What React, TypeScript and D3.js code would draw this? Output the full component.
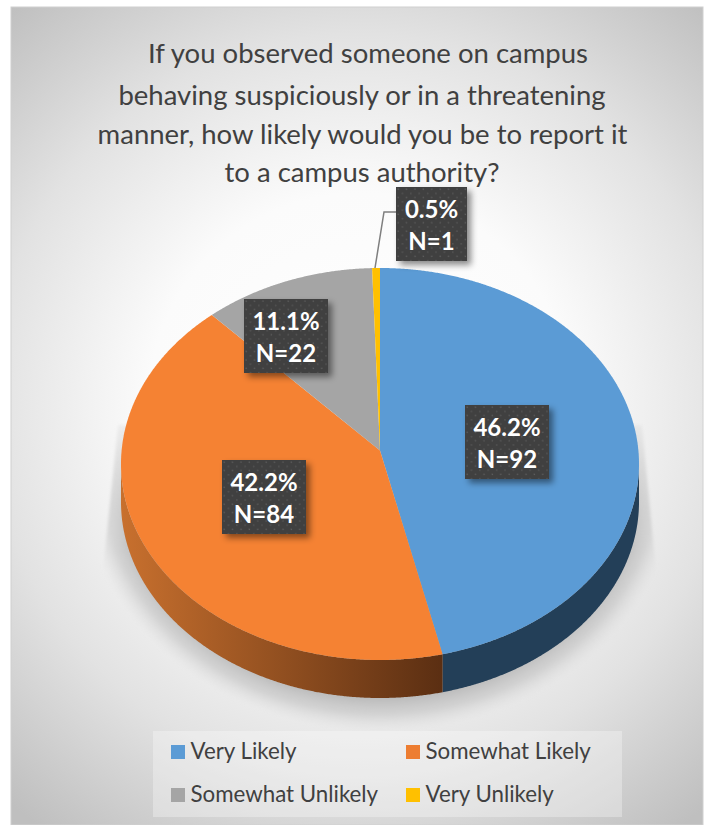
import React from 'react';
import * as d3 from 'd3';

const categories = ['Very Likely', 'Somewhat Likely', 'Somewhat Unlikely', 'Very Unlikely'];
const counts = [92, 84, 22, 1];
const percentLabels = ['46.2%', '42.2%', '11.1%', '0.5%'];
const countLabels = ['N=92', 'N=84', 'N=22', 'N=1'];
const colors = ['#5b9bd5', '#f58233', '#a5a5a5', '#ffc000'];
const titleLines = [
  'If you observed someone on campus',
  'behaving suspiciously or in a threatening',
  'manner, how likely would you be to report it',
  'to a campus authority?',
];

const width = 710;
const height = 825;
const cx = 380;
const cy = 464;
const rx = 259;
const ry = 196;
const depth = 38;
const apexY = -13.5; // the tilt moves the tip of the slices above the middle of the ellipse
const tilt = -0.03;
const font = 'Lato, sans-serif';

// top left corner of each data label box
const labelBoxes = [
  { x: 465, y: 405 },
  { x: 222, y: 460 },
  { x: 244, y: 299 },
  { x: 396, y: 187 },
];
const titleX = [368, 362, 362.5, 362];
const titleY = [63, 105, 144, 182];
const sideFills = ['#233f58', 'url(#orangeSide)', '#5e5e5e', '#8a6c00'];

const pie = d3.pie<number>().sort(null);
const slices = pie(counts);

// point of the rim for a pie angle, with a little perspective
const rim = (a: number): [number, number] => {
  const u = Math.sin(a);
  const v = -Math.cos(a);
  const k = 1 + tilt * v;
  return [(rx * Math.sqrt(1 - tilt * tilt) * u) / k, (ry * (v + tilt)) / k];
};

const rimPoints = (d: d3.PieArcDatum<number>) =>
  d3.range(d.startAngle, d.endAngle, 0.005).concat(d.endAngle).map(rim);

const topLine = d3.line();

// the wall of the disc, only the front half can be seen
const side = d3
  .area<[number, number]>()
  .x((p) => p[0])
  .y0((p) => p[1])
  .y1((p) => p[1] + depth);

const legendX = d3.scaleOrdinal<number, number>().domain([0, 1]).range([171, 406]);
const legendY = d3.scaleOrdinal<number, number>().domain([0, 1]).range([745, 788]);

export default function App() {
  return (
    <svg
      width={width}
      height={height}
      style={{ position: 'absolute', left: 0, top: 0, display: 'block' }}
    >
      <defs>
        <radialGradient id="bg" gradientUnits="userSpaceOnUse" cx={360} cy={405} r={530}>
          <stop offset="0" stopColor="#ffffff" />
          <stop offset="0.4" stopColor="#fbfbfb" />
          <stop offset="0.7" stopColor="#e2e2e2" />
          <stop offset="1" stopColor="#bfbfbf" />
        </radialGradient>
        <linearGradient id="orangeSide" gradientUnits="userSpaceOnUse" x1={-259} y1={0} x2={65} y2={0}>
          <stop offset="0" stopColor="#c8702e" />
          <stop offset="1" stopColor="#5a2e12" />
        </linearGradient>
        <radialGradient
          id="shadowFade"
          gradientUnits="userSpaceOnUse"
          cx={0}
          cy={0}
          r={1}
          gradientTransform={`translate(${cx} ${cy + 14}) scale(298 254)`}
        >
          <stop offset="0.84" stopColor="#b0b0b0" />
          <stop offset="0.93" stopColor="#cacaca" stopOpacity={0.75} />
          <stop offset="1" stopColor="#dcdcdc" stopOpacity={0} />
        </radialGradient>
        <linearGradient id="shadowMaskFill" gradientUnits="userSpaceOnUse" x1={0} y1={425} x2={0} y2={550}>
          <stop offset="0" stopColor="#fff" stopOpacity={0.2} />
          <stop offset="1" stopColor="#fff" stopOpacity={1} />
        </linearGradient>
        <mask id="shadowMask" maskUnits="userSpaceOnUse" x={0} y={380} width={710} height={445}>
          <rect x={0} y={380} width={710} height={445} fill="url(#shadowMaskFill)" />
        </mask>
        <clipPath id="shadowClip">
          <path d="M118,425 L642,425 L656,570 L700,800 L60,800 L103,570 Z" />
        </clipPath>
        <pattern id="dots" width={8.4} height={8.4} patternUnits="userSpaceOnUse">
          <rect width={8.4} height={8.4} fill="#404040" />
          <rect x={1.5} y={1.5} width={1.4} height={1.4} fill="#5c5c5c" />
          <rect x={5.7} y={5.7} width={1.4} height={1.4} fill="#585858" />
        </pattern>
        <filter id="boxShadow" x="-20%" y="-20%" width="150%" height="150%">
          <feDropShadow dx={4} dy={4} stdDeviation={3} floodColor="#000" floodOpacity={0.45} />
        </filter>
        <filter id="soft" filterUnits="userSpaceOnUse" x={0} y={380} width={710} height={445}>
          <feGaussianBlur stdDeviation={1.5} />
        </filter>
      </defs>

      <rect x={11} y={7} width={692} height={818} fill="url(#bg)" />
      <rect x={11} y={7} width={692} height={818} fill="none" stroke="#d0d0d0" strokeWidth={1} />

      <g fontFamily={font} fontSize={27.5} fill="#404040" textAnchor="middle">
        {titleLines.map((line, i) => (
          <text key={line} x={titleX[i]} y={titleY[i]}>
            {line}
          </text>
        ))}
      </g>

      <g filter="url(#soft)">
        <g clipPath="url(#shadowClip)" mask="url(#shadowMask)">
          <rect x={60} y={400} width={640} height={400} fill="url(#shadowFade)" />
        </g>
      </g>

      <g transform={`translate(${cx} ${cy})`}>
        {slices.map((d, i) => {
          const front = rimPoints(d).filter((p) => p[1] >= 0);
          return front.length ? (
            <path key={categories[i]} d={side(front) ?? ''} fill={sideFills[i]} />
          ) : null;
        })}
        {slices.map((d, i) => (
          <path
            key={categories[i]}
            d={`${topLine([[0, apexY], ...rimPoints(d)])}Z`}
            fill={colors[i]}
          />
        ))}
      </g>

      <path d="M396,212 L384,212 L375,268" fill="none" stroke="#7f7f7f" strokeWidth={1.5} />

      {slices.map((_, i) => {
        const w = i === 3 ? 71 : 84;
        const box = labelBoxes[i];
        return (
          <g key={percentLabels[i]} transform={`translate(${box.x} ${box.y})`}>
            <rect width={w} height={74} fill="url(#dots)" filter="url(#boxShadow)" />
            <g fontFamily={font} fontSize={24} fontWeight={700} fill="#ffffff" textAnchor="middle">
              <text x={w / 2} y={30.5}>
                {percentLabels[i]}
              </text>
              <text x={w / 2} y={63}>
                {countLabels[i]}
              </text>
            </g>
          </g>
        );
      })}

      <rect x={153} y={731} width={469} height={86} fill="#ffffff" fillOpacity={0.3} />
      {categories.map((c, i) => {
        const x = legendX(i % 2);
        const y = legendY(Math.floor(i / 2));
        return (
          <g key={c}>
            <rect x={x} y={y} width={14} height={14} fill={i === 1 ? '#ed7d31' : colors[i]} />
            <text x={x + 19.5} y={y + 14} fontFamily={font} fontSize={22.3} fill="#404040">
              {c}
            </text>
          </g>
        );
      })}
    </svg>
  );
}
